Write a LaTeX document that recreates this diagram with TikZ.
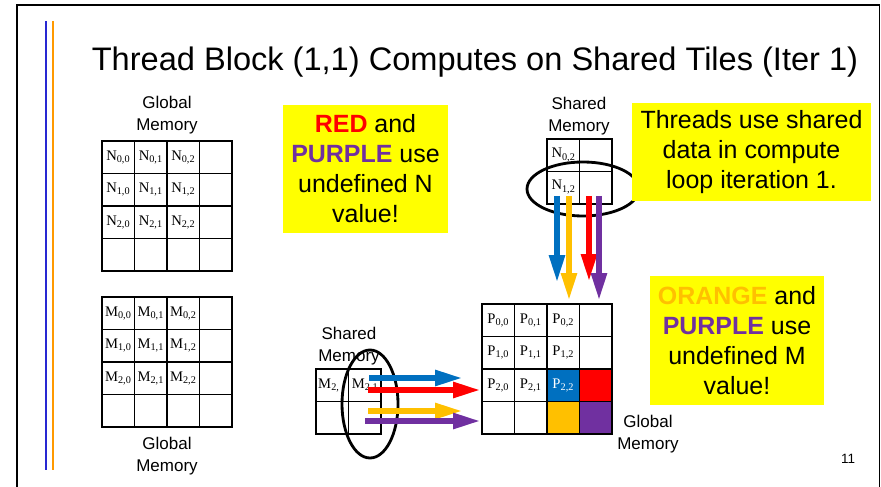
\documentclass[tikz,border=0pt]{standalone}
\usepackage{fontspec}
\setmainfont{Liberation Sans}
\newfontfamily\cellfont{Liberation Serif}
\usetikzlibrary{arrows.meta}
\definecolor{tileblue}{RGB}{0,112,192}
\definecolor{tilered}{RGB}{255,0,0}
\definecolor{tileorange}{RGB}{255,192,0}
\definecolor{tilepurple}{RGB}{112,48,160}
\definecolor{noteyellow}{RGB}{255,255,0}
\definecolor{barblue}{RGB}{40,40,210}
\definecolor{barorange}{RGB}{255,153,0}

\begin{document}
\begin{tikzpicture}[x=0.03cm,y=-0.03cm,
  thinline/.style={line width=0.8pt},
  midline/.style={line width=1.5pt},
  rimline/.style={line width=2pt},
  celltext/.style={font=\cellfont\fontsize{12.5}{13}\selectfont,inner sep=0pt},
  memlabel/.style={font=\fontsize{14.5}{18.5}\selectfont,align=center},
  notebox/.style={fill=noteyellow,align=center,font=\fontsize{21.3}{25.6}\selectfont,inner sep=0pt},
  fatarrow/.style={line width=4.3pt,-{Triangle[length=23pt,width=13pt]}},
  loopline/.style={line width=2.4pt}]

\useasboundingbox (0,0) rectangle (881,487);
\draw[line width=1.6pt] (17,495) -- (17,5) -- (879.5,5) -- (879.5,495);
\draw[barblue,line width=1.3pt] (46,21) -- (46,470);
\draw[barorange,line width=1.3pt] (53,21) -- (53,470);

\node[font=\fontsize{27.8}{30}\selectfont] (title) at (475,62) {Thread Block (1,1) Computes on Shared Tiles (Iter 1)};

% global tiles
\fill[tileblue] (547,369) rectangle ++(32.5,32.5);
\fill[tilered] (579.5,369) rectangle ++(32.5,32.5);
\fill[tileorange] (547,401.5) rectangle ++(32.5,32.5);
\fill[tilepurple] (579.5,401.5) rectangle ++(32.5,32.5);
\foreach \gx/\gy in {102/141,102/297,482/304} {
  \foreach \k in {1,3} {
    \draw[thinline] ({\gx+32.5*\k},\gy) -- ++(0,130);
    \draw[thinline] (\gx,{\gy+32.5*\k}) -- ++(130,0);
  }
  \draw[midline] (\gx+65,\gy) -- ++(0,130);
  \draw[midline] (\gx,\gy+65) -- ++(130,0);
  \draw[rimline] (\gx,\gy) rectangle ++(130,130);
}
\foreach \r in {0,1,2} \foreach \c in {0,1,2} {
  \node[celltext] (n\r\c) at ({102+32.5*(\c+0.5)},{141+32.5*(\r+0.5)}) {N\textsubscript{\r,\c}};
  \node[celltext] (m\r\c) at ({102+32.5*(\c+0.5)},{297+32.5*(\r+0.5)}) {M\textsubscript{\r,\c}};
}
\foreach \r/\c in {0/0,0/1,0/2,1/0,1/1,1/2,2/0,2/1}
  \node[celltext] (p\r\c) at ({482+32.5*(\c+0.5)},{304+32.5*(\r+0.5)}) {P\textsubscript{\r,\c}};
\node[celltext,text=white] (p22) at ({482+32.5*2.5},{304+32.5*2.5}) {P\textsubscript{2,2}};

% shared tiles
\foreach \sx/\sy in {547/139,316/369} {
  \draw[thinline] (\sx+32.5,\sy) -- ++(0,65);
  \draw[thinline] (\sx,\sy+32.5) -- ++(65,0);
  \draw[midline] (\sx,\sy) rectangle ++(65,65);
}
\node[celltext] (sn02) at (563.5,155) {N\textsubscript{0,2}};
\node[celltext] (sn12) at (563.5,187) {N\textsubscript{1,2}};
\node[celltext,anchor=west] (sm20) at (318,385.5) {M\textsubscript{2,}};
\node[celltext] (sm21) at (365,385.5) {M\textsubscript{2,1}};

\node[memlabel] (gmn) at (167,115) {Global\\Memory};
\node[memlabel] (gmm) at (167,456) {Global\\Memory};
\node[memlabel] (gmp) at (648,434) {Global\\Memory};
\node[memlabel] (smn) at (579,116) {Shared\\Memory};
\node[memlabel] (smm) at (349,346) {Shared\\Memory};

\draw[loopline] (583,189) ellipse [x radius=1.68cm, y radius=0.81cm];
\draw[loopline] (370,404) ellipse [x radius=0.84cm, y radius=1.62cm];

\coordinate (nb) at (557,196); \coordinate (pb) at (557,282);
\coordinate (no) at (569,196); \coordinate (po) at (569,300);
\coordinate (nr) at (589,196); \coordinate (pr) at (589,281);
\coordinate (np) at (599,196); \coordinate (pp) at (599,300);
\draw[fatarrow,tileblue] (nb) -- (pb);
\draw[fatarrow,tileorange] (no) -- (po);
\draw[fatarrow,tilered] (nr) -- (pr);
\draw[fatarrow,tilepurple] (np) -- (pp);

\coordinate (mb) at (369,378); \coordinate (qb) at (462,378);
\coordinate (mr) at (368,390); \coordinate (qr) at (480,390);
\coordinate (mo) at (368,411); \coordinate (qo) at (462,411);
\coordinate (mp) at (365,421); \coordinate (qp) at (480,421);
\draw[fatarrow,tileblue] (mb) -- (qb);
\draw[fatarrow,tilered] (mr) -- (qr);
\draw[fatarrow,tileorange] (mo) -- (qo);
\draw[fatarrow,tilepurple] (mp) -- (qp);

\node[notebox,minimum width=4.95cm,minimum height=3.84cm] (undefn) at (365.5,169)
  {\textbf{\color{tilered}RED} and\\ \textbf{\color{tilepurple}PURPLE} use\\ undefined N\\ value!};
\node[notebox,minimum width=7.17cm,minimum height=2.94cm] (threads) at (751.5,152)
  {Threads use shared\\ data in compute\\ loop iteration 1.};
\node[notebox,minimum width=5.22cm,minimum height=3.87cm] (undefm) at (737,340.5)
  {\textbf{\color{tileorange}ORANGE} and\\ \textbf{\color{tilepurple}PURPLE} use\\ undefined M\\ value!};

\node[font=\fontsize{11.5}{13}\selectfont] (pagenum) at (848,459) {11};
\end{tikzpicture}
\end{document}
